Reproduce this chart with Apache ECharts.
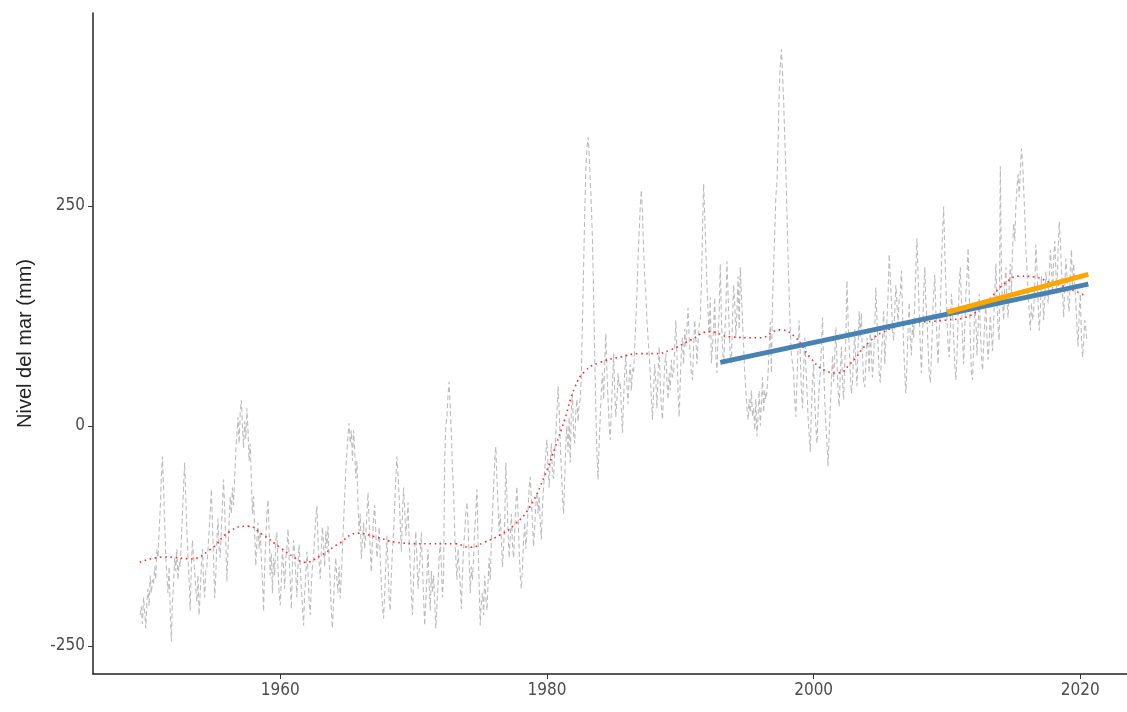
<!DOCTYPE html>
<html>
<head>
<meta charset="utf-8">
<script src="https://cdn.jsdelivr.net/npm/echarts@6/dist/echarts.min.js"></script>
<style>
html,body{margin:0;padding:0;background:#fff;}
#chart{width:1127px;height:712px;}
</style>
</head>
<body>
<div id="chart"></div>
<script>
// ---- DATA ----
const startYear = 1949.5;      // first monthly observation (decimal year)
const monthsPerYear = 12;
// monthly sea level (mm), grouped by 12-month blocks
const seaLevel = [
  -215,-205,-225,-195,-210,-230,-200,-185,-205,-170,-190,-175,
  -180,-160,-175,-140,-150,-120,-95,-60,-35,-70,-110,-150,
  -170,-190,-160,-210,-245,-200,-180,-150,-165,-140,-175,-155,
  -160,-130,-100,-70,-42,-80,-120,-150,-175,-210,-160,-130,
  -150,-165,-185,-200,-170,-215,-190,-160,-140,-175,-195,-165,
  -160,-140,-120,-100,-72,-110,-150,-196,-170,-130,-105,-140,
  -150,-120,-90,-61,-95,-130,-177,-140,-110,-80,-100,-70,
  -90,-60,-30,-10,10,-20,15,29,0,-25,5,-15,
  20,-5,-40,-20,-60,-100,-80,-120,-159,-130,-110,-140,
  -120,-150,-175,-211,-160,-130,-100,-84,-120,-170,-145,-190,
  -150,-170,-130,-121,-160,-190,-204,-175,-140,-160,-185,-150,
  -140,-117,-150,-175,-208,-160,-130,-145,-170,-195,-155,-135,
  -160,-185,-205,-227,-190,-170,-143,-165,-200,-215,-180,-160,
  -150,-125,-105,-91,-130,-155,-174,-140,-115,-135,-160,-120,
  -140,-114,-150,-180,-210,-230,-200,-170,-150,-175,-190,-160,
  -196,-170,-140,-110,-80,-50,-30,-10,3,-20,-5,-40,
  -5,-25,-60,-40,-90,-120,-100,-151,-130,-110,-140,-125,
  -100,-76,-110,-140,-166,-130,-105,-90,-120,-150,-135,-115,
  -150,-180,-205,-219,-190,-160,-125,-155,-195,-210,-170,-140,
  -120,-90,-60,-35,-55,-80,-110,-143,-100,-70,-95,-125,
  -110,-87,-130,-160,-190,-215,-175,-140,-120,-150,-185,-165,
  -150,-121,-160,-195,-227,-200,-170,-140,-180,-210,-165,-190,
  -170,-200,-230,-205,-180,-150,-132,-160,-195,-170,-40,0,
  10,35,50,20,-10,-50,-76,-120,-150,-175,-140,-160,
  -180,-208,-170,-140,-120,-100,-87,-110,-150,-190,-160,-175,
  -150,-120,-95,-72,-130,-180,-227,-200,-190,-215,-170,-195,
  -210,-180,-150,-175,-130,-100,-70,-40,-24,-60,-90,-120,
  -100,-130,-160,-137,-110,-42,-80,-120,-150,-125,-100,-135,
  -150,-120,-90,-69,-100,-140,-170,-185,-160,-130,-110,-140,
  -120,-95,-70,-58,-85,-110,-137,-115,-90,-75,-100,-80,
  -110,-129,-90,-70,-50,-30,-16,-45,-70,-40,-20,-55,
  -60,-30,-10,15,45,20,-20,-50,-80,-100,-60,-20,
  0,-30,10,-42,20,37,-10,-20,15,30,5,25,
  30,60,120,180,240,290,315,328,310,280,250,210,
  150,80,20,-30,-61,-20,10,40,60,30,70,105,
  60,30,0,-16,20,50,82,40,10,30,60,45,
  50,20,-8,30,60,82,45,25,55,70,40,65,
  60,90,120,150,190,220,250,268,240,200,170,150,
  120,100,80,60,30,7,40,70,50,20,60,90,
  50,20,7,40,70,82,50,30,60,40,75,55,
  60,90,120,80,40,10,50,85,100,70,110,90,
  110,134,100,80,60,52,90,120,100,70,95,115,
  120,160,220,275,240,200,160,130,100,146,71,90,
  110,146,80,60,100,130,184,120,90,70,100,130,
  187,150,110,80,71,120,160,140,100,130,170,110,
  180,150,120,90,60,40,20,7,30,15,40,10,
  20,-5,30,-12,10,40,0,25,55,15,40,30,
  40,60,90,118,60,140,180,220,260,276,320,380,
  410,428,400,370,330,290,240,190,150,110,80,71,
  60,30,10,50,90,120,80,40,20,60,100,70,
  40,10,-10,-30,20,50,71,30,0,-20,15,45,
  60,90,123,70,30,0,-20,-46,-10,20,50,80,
  50,80,112,70,40,22,60,90,50,30,70,100,
  165,120,90,60,37,50,80,110,70,45,90,130,
  100,128,80,50,44,70,100,90,60,110,80,55,
  80,110,157,120,90,60,49,80,100,130,70,95,
  120,150,195,170,140,110,97,130,160,140,115,145,
  150,176,130,90,60,37,70,110,140,100,80,120,
  100,140,180,213,170,130,90,60,100,150,180,140,
  120,90,60,49,80,120,150,172,130,100,70,110,
  130,180,220,249,200,160,120,90,78,110,150,130,
  100,70,52,80,120,160,180,140,100,70,110,150,
  170,202,150,100,60,52,90,140,120,80,110,150,
  110,80,63,90,120,139,100,75,95,125,105,85,
  120,150,184,140,110,97,295,170,140,120,160,180,
  140,123,160,184,150,200,230,210,250,270,286,260,
  290,315,300,270,240,200,178,150,130,108,140,120,
  130,160,206,180,140,108,130,170,150,120,145,175,
  160,139,170,200,180,150,190,210,175,150,200,232,
  210,180,150,123,160,190,170,140,130,175,200,160,
  184,160,140,110,90,130,150,100,78,95,120,110,
  95
];
// smoothed trend (red dotted)
const smoothYears = [1949.47,1951.34,1953.22,1954.72,1956.22,1957.57,1958.62,1959.97,1961.10,1961.85,1962.97,1964.47,1965.82,1967.10,1968.60,1970.47,1973.10,1974.22,1975.35,1976.47,1977.60,1978.72,1979.85,1980.60,1981.35,1982.10,1982.85,1983.97,1985.47,1986.97,1988.10,1989.22,1990.72,1992.22,1993.72,1995.97,1997.47,1998.60,1999.72,2000.85,2001.82,2002.72,2004.22,2005.72,2007.22,2009.85,2011.35,2012.85,2014.35,2015.47,2016.60,2017.72,2018.85,2020.35];
const smoothValues = [-155,-149,-151,-141,-120,-114,-123,-138,-150,-155,-148,-133,-122,-126,-132,-134,-134,-138,-132,-124,-112,-92,-56,-25,8,44,62,72,78,82,82,86,97,107,101,100,109,101,78,63,60,70,96,110,116,120,123,139,162,170,169,163,158,148];
// linear trends
const trend1993Years = [1993.0, 2020.6];
const trend1993Values = [72, 161];
const trend2010Years = [2010.0, 2020.6];
const trend2010Values = [129, 172];
// axes
const xTicks = [1960, 1980, 2000, 2020];
const yTicks = [-250, 0, 250];
const yTitle = 'Nivel del mar (mm)';

// ---- BUILD ----
const seaPairs = seaLevel.map((v, i) => [startYear + i / monthsPerYear, v]);
const smoothPairs = smoothYears.map((y, i) => [y, smoothValues[i]]);
const t1 = trend1993Years.map((y, i) => [y, trend1993Values[i]]);
const t2 = trend2010Years.map((y, i) => [y, trend2010Values[i]]);

const tickFont = "'Liberation Sans Narrow','DejaVu Sans Condensed','Liberation Sans',sans-serif";
const chart = echarts.init(document.getElementById('chart'), null, {renderer: 'canvas'});
chart.setOption({
  animation: false,
  backgroundColor: '#ffffff',
  grid: {left: 93, right: 0, top: 13, bottom: 38, containLabel: false, outerBoundsMode: 'none'},
  xAxis: {
    type: 'value', min: 1945.96, max: 2023.5,
    splitLine: {show: false},
    axisLine: {show: true, onZero: false, lineStyle: {color: '#222', width: 1.5}},
    axisTick: {show: true, length: 5, customValues: xTicks, lineStyle: {color: '#333', width: 1}},
    axisLabel: {customValues: xTicks, formatter: v => String(Math.round(v)),
                color: '#4d4d4d', fontSize: 17, fontFamily: tickFont, margin: 8}
  },
  yAxis: {
    type: 'value', min: -282, max: 469,
    splitLine: {show: false},
    axisLine: {show: true, onZero: false, lineStyle: {color: '#222', width: 1.5}},
    axisTick: {show: true, length: 5, customValues: yTicks, lineStyle: {color: '#333', width: 1}},
    axisLabel: {customValues: yTicks, formatter: v => String(Math.round(v)),
                color: '#4d4d4d', fontSize: 17, fontFamily: tickFont, margin: 8},
    name: yTitle, nameLocation: 'middle', nameRotate: 90, nameGap: 58,
    nameTextStyle: {fontSize: 20, color: '#222', fontFamily: "'Liberation Sans',Arial,sans-serif"}
  },
  series: [
    {type: 'line', data: seaPairs, symbol: 'none', z: 1,
     lineStyle: {color: '#bcbcbc', width: 1.1, type: [5, 3]}},
    {type: 'line', data: smoothPairs, symbol: 'none', smooth: 0.5, z: 2,
     lineStyle: {color: '#ff2a2a', width: 1.6, type: [1.6, 3.6]}},
    {type: 'line', data: t1, symbol: 'none', z: 3,
     lineStyle: {color: '#4682b4', width: 5}},
    {type: 'line', data: t2, symbol: 'none', z: 4,
     lineStyle: {color: '#ffa500', width: 5}}
  ]
});
</script>
</body>
</html>
